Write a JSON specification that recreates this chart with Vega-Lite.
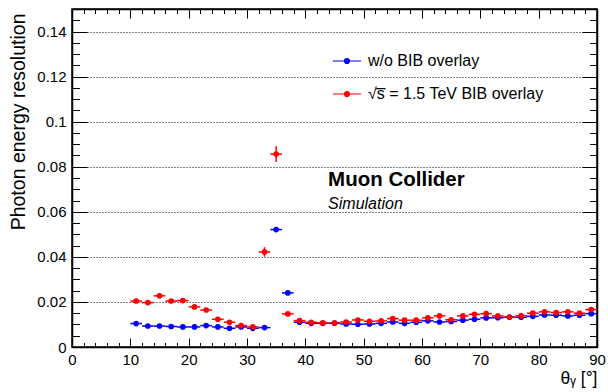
{
  "$schema": "https://vega.github.io/schema/vega-lite/v6.json",
  "width": 525,
  "height": 338,
  "autosize": {"type": "none"},
  "padding": {"left": 72, "top": 9, "right": 11, "bottom": 45},
  "background": "white",
  "config": {
    "font": "Liberation Sans",
    "view": {"stroke": "black", "strokeWidth": 1.5},
    "axis": {"domainColor": "black", "domainWidth": 1.5, "tickColor": "black", "tickWidth": 1, "labelColor": "black", "labelFontSize": 15, "titleColor": "black", "titleFontWeight": "normal", "labelFont": "Liberation Sans", "titleFont": "Liberation Sans"}
  },
  "datasets": {
    "pts": [
      {"series": "w/o BIB overlay", "theta": 11, "res": 0.0104, "xe": 1, "ye": 0.0003},
      {"series": "w/o BIB overlay", "theta": 13, "res": 0.0093, "xe": 1, "ye": 0.0003},
      {"series": "w/o BIB overlay", "theta": 15, "res": 0.0093, "xe": 1, "ye": 0.0003},
      {"series": "w/o BIB overlay", "theta": 17, "res": 0.0091, "xe": 1, "ye": 0.0003},
      {"series": "w/o BIB overlay", "theta": 19, "res": 0.0089, "xe": 1, "ye": 0.0003},
      {"series": "w/o BIB overlay", "theta": 21, "res": 0.0089, "xe": 1, "ye": 0.0003},
      {"series": "w/o BIB overlay", "theta": 23, "res": 0.0095, "xe": 1, "ye": 0.0003},
      {"series": "w/o BIB overlay", "theta": 25, "res": 0.0089, "xe": 1, "ye": 0.0003},
      {"series": "w/o BIB overlay", "theta": 27, "res": 0.0083, "xe": 1, "ye": 0.0003},
      {"series": "w/o BIB overlay", "theta": 29, "res": 0.0089, "xe": 1, "ye": 0.0003},
      {"series": "w/o BIB overlay", "theta": 31, "res": 0.0083, "xe": 1, "ye": 0.0003},
      {"series": "w/o BIB overlay", "theta": 33, "res": 0.0086, "xe": 1, "ye": 0.0003},
      {"series": "w/o BIB overlay", "theta": 35, "res": 0.0521, "xe": 1, "ye": 0.0005},
      {"series": "w/o BIB overlay", "theta": 37, "res": 0.0240, "xe": 1, "ye": 0.0004},
      {"series": "w/o BIB overlay", "theta": 39, "res": 0.0110, "xe": 1, "ye": 0.0003},
      {"series": "w/o BIB overlay", "theta": 41, "res": 0.0105, "xe": 1, "ye": 0.0003},
      {"series": "w/o BIB overlay", "theta": 43, "res": 0.0105, "xe": 1, "ye": 0.0003},
      {"series": "w/o BIB overlay", "theta": 45, "res": 0.0105, "xe": 1, "ye": 0.0003},
      {"series": "w/o BIB overlay", "theta": 47, "res": 0.0102, "xe": 1, "ye": 0.0003},
      {"series": "w/o BIB overlay", "theta": 49, "res": 0.0101, "xe": 1, "ye": 0.0003},
      {"series": "w/o BIB overlay", "theta": 51, "res": 0.0102, "xe": 1, "ye": 0.0003},
      {"series": "w/o BIB overlay", "theta": 53, "res": 0.0105, "xe": 1, "ye": 0.0003},
      {"series": "w/o BIB overlay", "theta": 55, "res": 0.0111, "xe": 1, "ye": 0.0003},
      {"series": "w/o BIB overlay", "theta": 57, "res": 0.0105, "xe": 1, "ye": 0.0003},
      {"series": "w/o BIB overlay", "theta": 59, "res": 0.0110, "xe": 1, "ye": 0.0003},
      {"series": "w/o BIB overlay", "theta": 61, "res": 0.0116, "xe": 1, "ye": 0.0003},
      {"series": "w/o BIB overlay", "theta": 63, "res": 0.0111, "xe": 1, "ye": 0.0003},
      {"series": "w/o BIB overlay", "theta": 65, "res": 0.0113, "xe": 1, "ye": 0.0003},
      {"series": "w/o BIB overlay", "theta": 67, "res": 0.0119, "xe": 1, "ye": 0.0003},
      {"series": "w/o BIB overlay", "theta": 69, "res": 0.0123, "xe": 1, "ye": 0.0003},
      {"series": "w/o BIB overlay", "theta": 71, "res": 0.0129, "xe": 1, "ye": 0.0003},
      {"series": "w/o BIB overlay", "theta": 73, "res": 0.0130, "xe": 1, "ye": 0.0003},
      {"series": "w/o BIB overlay", "theta": 75, "res": 0.0132, "xe": 1, "ye": 0.0003},
      {"series": "w/o BIB overlay", "theta": 77, "res": 0.0132, "xe": 1, "ye": 0.0003},
      {"series": "w/o BIB overlay", "theta": 79, "res": 0.0136, "xe": 1, "ye": 0.0003},
      {"series": "w/o BIB overlay", "theta": 81, "res": 0.0142, "xe": 1, "ye": 0.0003},
      {"series": "w/o BIB overlay", "theta": 83, "res": 0.0141, "xe": 1, "ye": 0.0003},
      {"series": "w/o BIB overlay", "theta": 85, "res": 0.0138, "xe": 1, "ye": 0.0003},
      {"series": "w/o BIB overlay", "theta": 87, "res": 0.0141, "xe": 1, "ye": 0.0003},
      {"series": "w/o BIB overlay", "theta": 89, "res": 0.0148, "xe": 1, "ye": 0.0003},
      {"series": "√s̅ = 1.5 TeV BIB overlay", "theta": 11, "res": 0.0204, "xe": 1, "ye": 0.0004},
      {"series": "√s̅ = 1.5 TeV BIB overlay", "theta": 13, "res": 0.0197, "xe": 1, "ye": 0.0004},
      {"series": "√s̅ = 1.5 TeV BIB overlay", "theta": 15, "res": 0.0227, "xe": 1, "ye": 0.0004},
      {"series": "√s̅ = 1.5 TeV BIB overlay", "theta": 17, "res": 0.0204, "xe": 1, "ye": 0.0004},
      {"series": "√s̅ = 1.5 TeV BIB overlay", "theta": 19, "res": 0.0206, "xe": 1, "ye": 0.0004},
      {"series": "√s̅ = 1.5 TeV BIB overlay", "theta": 21, "res": 0.0178, "xe": 1, "ye": 0.0004},
      {"series": "√s̅ = 1.5 TeV BIB overlay", "theta": 23, "res": 0.0164, "xe": 1, "ye": 0.0004},
      {"series": "√s̅ = 1.5 TeV BIB overlay", "theta": 25, "res": 0.0123, "xe": 1, "ye": 0.0004},
      {"series": "√s̅ = 1.5 TeV BIB overlay", "theta": 27, "res": 0.0110, "xe": 1, "ye": 0.0004},
      {"series": "√s̅ = 1.5 TeV BIB overlay", "theta": 29, "res": 0.0095, "xe": 1, "ye": 0.0004},
      {"series": "√s̅ = 1.5 TeV BIB overlay", "theta": 31, "res": 0.0089, "xe": 1, "ye": 0.0004},
      {"series": "√s̅ = 1.5 TeV BIB overlay", "theta": 33, "res": 0.0422, "xe": 1, "ye": 0.0021},
      {"series": "√s̅ = 1.5 TeV BIB overlay", "theta": 35, "res": 0.0856, "xe": 1, "ye": 0.0035},
      {"series": "√s̅ = 1.5 TeV BIB overlay", "theta": 37, "res": 0.0147, "xe": 1, "ye": 0.0004},
      {"series": "√s̅ = 1.5 TeV BIB overlay", "theta": 39, "res": 0.0117, "xe": 1, "ye": 0.0004},
      {"series": "√s̅ = 1.5 TeV BIB overlay", "theta": 41, "res": 0.0110, "xe": 1, "ye": 0.0004},
      {"series": "√s̅ = 1.5 TeV BIB overlay", "theta": 43, "res": 0.0107, "xe": 1, "ye": 0.0004},
      {"series": "√s̅ = 1.5 TeV BIB overlay", "theta": 45, "res": 0.0107, "xe": 1, "ye": 0.0004},
      {"series": "√s̅ = 1.5 TeV BIB overlay", "theta": 47, "res": 0.0111, "xe": 1, "ye": 0.0004},
      {"series": "√s̅ = 1.5 TeV BIB overlay", "theta": 49, "res": 0.0120, "xe": 1, "ye": 0.0004},
      {"series": "√s̅ = 1.5 TeV BIB overlay", "theta": 51, "res": 0.0114, "xe": 1, "ye": 0.0004},
      {"series": "√s̅ = 1.5 TeV BIB overlay", "theta": 53, "res": 0.0116, "xe": 1, "ye": 0.0004},
      {"series": "√s̅ = 1.5 TeV BIB overlay", "theta": 55, "res": 0.0126, "xe": 1, "ye": 0.0004},
      {"series": "√s̅ = 1.5 TeV BIB overlay", "theta": 57, "res": 0.0119, "xe": 1, "ye": 0.0004},
      {"series": "√s̅ = 1.5 TeV BIB overlay", "theta": 59, "res": 0.0119, "xe": 1, "ye": 0.0004},
      {"series": "√s̅ = 1.5 TeV BIB overlay", "theta": 61, "res": 0.0129, "xe": 1, "ye": 0.0004},
      {"series": "√s̅ = 1.5 TeV BIB overlay", "theta": 63, "res": 0.0138, "xe": 1, "ye": 0.0004},
      {"series": "√s̅ = 1.5 TeV BIB overlay", "theta": 65, "res": 0.0121, "xe": 1, "ye": 0.0004},
      {"series": "√s̅ = 1.5 TeV BIB overlay", "theta": 67, "res": 0.0138, "xe": 1, "ye": 0.0004},
      {"series": "√s̅ = 1.5 TeV BIB overlay", "theta": 69, "res": 0.0145, "xe": 1, "ye": 0.0004},
      {"series": "√s̅ = 1.5 TeV BIB overlay", "theta": 71, "res": 0.0148, "xe": 1, "ye": 0.0004},
      {"series": "√s̅ = 1.5 TeV BIB overlay", "theta": 73, "res": 0.0138, "xe": 1, "ye": 0.0004},
      {"series": "√s̅ = 1.5 TeV BIB overlay", "theta": 75, "res": 0.0133, "xe": 1, "ye": 0.0004},
      {"series": "√s̅ = 1.5 TeV BIB overlay", "theta": 77, "res": 0.0139, "xe": 1, "ye": 0.0004},
      {"series": "√s̅ = 1.5 TeV BIB overlay", "theta": 79, "res": 0.0150, "xe": 1, "ye": 0.0004},
      {"series": "√s̅ = 1.5 TeV BIB overlay", "theta": 81, "res": 0.0156, "xe": 1, "ye": 0.0004},
      {"series": "√s̅ = 1.5 TeV BIB overlay", "theta": 83, "res": 0.0153, "xe": 1, "ye": 0.0004},
      {"series": "√s̅ = 1.5 TeV BIB overlay", "theta": 85, "res": 0.0156, "xe": 1, "ye": 0.0004},
      {"series": "√s̅ = 1.5 TeV BIB overlay", "theta": 87, "res": 0.0150, "xe": 1, "ye": 0.0004},
      {"series": "√s̅ = 1.5 TeV BIB overlay", "theta": 89, "res": 0.0166, "xe": 1, "ye": 0.0004}
    ]
  },
  "layer": [
    {
      "data": {"name": "pts"},
      "mark": {"type": "errorbar", "thickness": 1.5},
      "encoding": {
        "x": {"field": "theta", "type": "quantitative", "scale": {"domain": [0, 90], "nice": false, "zero": false},
          "axis": {"orient": "bottom", "values": [0,2,4,6,8,10,12,14,16,18,20,22,24,26,28,30,32,34,36,38,40,42,44,46,48,50,52,54,56,58,60,62,64,66,68,70,72,74,76,78,80,82,84,86,88,90],
            "tickSize": {"condition": {"test": "datum.value % 10 === 0", "value": -9}, "value": -4.5},
            "labelExpr": "datum.value % 10 === 0 ? format(datum.value, 'd') : ''",
            "labelPadding": 14, "labelFlush": false, "labelOverlap": false, "grid": false,
            "title": "θᵧ [°]", "titleAnchor": "end", "titleFontSize": 17.5, "titleBaseline": "alphabetic", "titleY": 36}},
        "xError": {"field": "xe"},
        "y": {"field": "res", "type": "quantitative", "scale": {"domain": [0, 0.15], "nice": false},
          "axis": {"orient": "left", "values": [0,0.005,0.01,0.015,0.02,0.025,0.03,0.035,0.04,0.045,0.05,0.055,0.06,0.065,0.07,0.075,0.08,0.085,0.09,0.095,0.1,0.105,0.11,0.115,0.12,0.125,0.13,0.135,0.14,0.145],
            "tickSize": {"condition": {"test": "abs(datum.value*50 - round(datum.value*50)) < 1e-6", "value": -15}, "value": -7.5},
            "labelExpr": "abs(datum.value*50 - round(datum.value*50)) < 1e-6 ? format(datum.value, '~g') : ''",
            "labelPadding": 21, "labelFlush": false, "labelOverlap": false,
            "grid": true, "gridDash": [1, 2], "gridColor": "black", "gridWidth": 1,
            "gridOpacity": {"condition": {"test": "abs(datum.value*50 - round(datum.value*50)) < 1e-6 && datum.value > 0.001", "value": 1}, "value": 0},
            "title": "Photon energy resolution", "titleAnchor": "end", "titleFontSize": 19.5, "titlePadding": 8, "titleY": 4}},
        "color": {"field": "series", "type": "nominal", "scale": {"domain": ["w/o BIB overlay", "√s̅ = 1.5 TeV BIB overlay"], "range": ["#0000ff", "#ff0000"]}}
      }
    },
    {
      "data": {"name": "pts"},
      "mark": {"type": "errorbar", "thickness": 1.5},
      "encoding": {
        "x": {"field": "theta", "type": "quantitative", "scale": {"domain": [0, 90], "nice": false, "zero": false},
          "axis": {"orient": "top", "values": [0,2,4,6,8,10,12,14,16,18,20,22,24,26,28,30,32,34,36,38,40,42,44,46,48,50,52,54,56,58,60,62,64,66,68,70,72,74,76,78,80,82,84,86,88,90],
            "tickSize": {"condition": {"test": "datum.value % 10 === 0", "value": -9}, "value": -4.5},
            "labels": false, "grid": false, "title": null}},
        "y": {"field": "res", "type": "quantitative", "scale": {"domain": [0, 0.15], "nice": false},
          "axis": {"orient": "right", "values": [0,0.005,0.01,0.015,0.02,0.025,0.03,0.035,0.04,0.045,0.05,0.055,0.06,0.065,0.07,0.075,0.08,0.085,0.09,0.095,0.1,0.105,0.11,0.115,0.12,0.125,0.13,0.135,0.14,0.145],
            "tickSize": {"condition": {"test": "abs(datum.value*50 - round(datum.value*50)) < 1e-6", "value": -15}, "value": -7.5},
            "labels": false, "grid": false, "title": null}},
        "yError": {"field": "ye"},
        "color": {"field": "series", "type": "nominal", "scale": {"domain": ["w/o BIB overlay", "√s̅ = 1.5 TeV BIB overlay"], "range": ["#0000ff", "#ff0000"]}}
      }
    },
    {
      "data": {"name": "pts"},
      "mark": {"type": "point", "filled": true, "size": 32, "opacity": 1},
      "encoding": {
        "x": {"field": "theta", "type": "quantitative", "axis": null},
        "y": {"field": "res", "type": "quantitative", "axis": null},
        "color": {"field": "series", "type": "nominal", "scale": {"domain": ["w/o BIB overlay", "√s̅ = 1.5 TeV BIB overlay"], "range": ["#0000ff", "#ff0000"]},
          "legend": {"orient": "none", "legendX": 260, "legendY": 37, "title": null,
            "symbolType": "M-1,0L1,0M0.18,0A0.18,0.18,0,1,1,-0.18,0A0.18,0.18,0,1,1,0.18,0Z",
            "symbolSize": 784, "symbolStrokeWidth": 1.2, "symbolOpacity": 1,
            "labelFontSize": 16, "labelOffset": 6, "rowPadding": 10, "padding": 0,
            "labelColor": "black", "labelFont": "Liberation Sans", "labelLimit": 400,
            "encode": {"symbols": {"update": {"stroke": {"signal": "scale('color', datum.value)"}}}}}}
      }
    },
    {
      "data": {"values": [{}]},
      "mark": {"type": "text", "text": "Muon Collider", "font": "Liberation Sans", "fontSize": 20.5, "fontWeight": "bold", "align": "left", "baseline": "alphabetic", "color": "black"},
      "encoding": {
        "x": {"datum": 43.9, "type": "quantitative", "axis": null},
        "y": {"datum": 0.0716, "type": "quantitative", "axis": null}
      }
    },
    {
      "data": {"values": [{}]},
      "mark": {"type": "text", "text": "Simulation", "font": "Liberation Sans", "fontSize": 16, "fontStyle": "italic", "align": "left", "baseline": "alphabetic", "color": "black"},
      "encoding": {
        "x": {"datum": 43.9, "type": "quantitative", "axis": null},
        "y": {"datum": 0.0613, "type": "quantitative", "axis": null}
      }
    }
  ],
  "resolve": {"axis": {"x": "independent", "y": "independent"}}
}
